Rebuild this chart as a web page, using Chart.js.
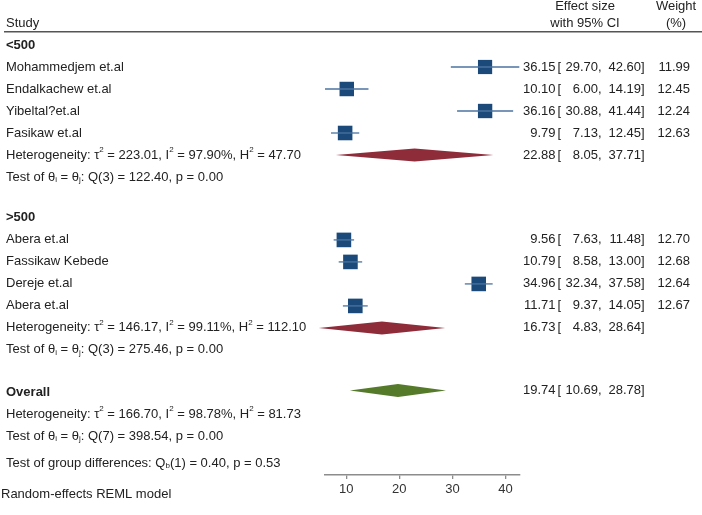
<!DOCTYPE html>
<html>
<head>
<meta charset="utf-8">
<script src="https://cdn.jsdelivr.net/npm/chart.js@4.4.1/dist/chart.umd.min.js"></script>
<style>
  html, body { margin: 0; padding: 0; background: #fff; }
  canvas { display: block; }
</style>
</head>
<body>
<canvas id="forest" width="702" height="515"></canvas>
<script>
// study level data
const studies = ['Mohammedjem et.al', 'Endalkachew et.al', 'Yibeltal?et.al', 'Fasikaw et.al',
                 'Abera et.al', 'Fassikaw Kebede', 'Dereje et.al', 'Abera et.al'];
const studyGroup = [0, 0, 0, 0, 1, 1, 1, 1];
const effect = [36.15, 10.10, 36.16, 9.79, 9.56, 10.79, 34.96, 11.71];
const lower = [29.70, 6.00, 30.88, 7.13, 7.63, 8.58, 32.34, 9.37];
const upper = [42.60, 14.19, 41.44, 12.45, 11.48, 13.00, 37.58, 14.05];
const weights = [11.99, 12.45, 12.24, 12.63, 12.70, 12.68, 12.64, 12.67];

// subgroup pooled estimates
const groups = ['<500', '>500'];
const groupEffect = [22.88, 16.73];
const groupLower = [8.05, 4.83];
const groupUpper = [37.71, 28.64];
const groupHet = ['Heterogeneity: τ^2 = 223.01, I^2 = 97.90%, H^2 = 47.70',
                  'Heterogeneity: τ^2 = 146.17, I^2 = 99.11%, H^2 = 112.10'];
const groupTest = ['Test of θ_i = θ_j: Q(3) = 122.40, p = 0.00',
                   'Test of θ_i = θ_j: Q(3) = 275.46, p = 0.00'];

// overall
const overallEffect = 19.74;
const overallLower = 10.69;
const overallUpper = 28.78;
const overallHet = 'Heterogeneity: τ^2 = 166.70, I^2 = 98.78%, H^2 = 81.73';
const overallTest = 'Test of θ_i = θ_j: Q(7) = 398.54, p = 0.00';
const groupDiffTest = 'Test of group differences: Q_b(1) = 0.40, p = 0.53';
const modelNote = 'Random-effects REML model';

const xTicks = [10, 20, 30, 40];

// row layout (row units, 1 row = 22px)
const ROW_PX = 22;
const FIRST_ROW_PX = 45;
const AXIS_PX = 475;
const groupRow = [0, 7.86];
const overallRow = 15.77;
const groupDiffRow = 19.0;
const noteRow = 20.45;

const FONT = "'Liberation Sans', Arial, Helvetica, sans-serif";
const TEXT = '#222';

const studyRow = studies.map((s, i) => {
    const g = studyGroup[i];
    const idx = studyGroup.slice(0, i).filter(x => x === g).length;
    return groupRow[g] + 1 + idx;
});

const fmt = v => v.toFixed(2);

// draws text with ^c superscripts and _c subscripts
function drawRich(ctx, str, x, y, size) {
    let run = '';
    const flush = () => {
        if (!run) return;
        ctx.font = `${size}px ${FONT}`;
        ctx.fillText(run, x, y);
        x += ctx.measureText(run).width;
        run = '';
    };
    for (let i = 0; i < str.length; i++) {
        const c = str[i];
        if ((c === '^' || c === '_') && i + 1 < str.length) {
            flush();
            const s = str[i + 1];
            ctx.font = `${Math.round(size * 0.58)}px ${FONT}`;
            const dy = c === '^' ? -size * 0.42 : size * 0.22;
            ctx.fillText(s, x, y + dy);
            x += ctx.measureText(s).width;
            i++;
        } else {
            run += c;
        }
    }
    flush();
}

function drawCI(ctx, est, lo, hi, y, weight) {
    ctx.font = `13px ${FONT}`;
    ctx.textAlign = 'right';
    ctx.fillText(fmt(est), 555.5, y);
    ctx.textAlign = 'left';
    ctx.fillText('[', 557.5, y);
    ctx.textAlign = 'right';
    ctx.fillText(fmt(lo), 598, y);
    ctx.textAlign = 'left';
    ctx.fillText(',', 598, y);
    ctx.textAlign = 'right';
    ctx.fillText(fmt(hi), 641, y);
    ctx.textAlign = 'left';
    ctx.fillText(']', 641, y);
    if (weight !== undefined) {
        ctx.textAlign = 'right';
        ctx.fillText(fmt(weight), 690, y);
    }
}

// pin the row scale so that row 0 sits at FIRST_ROW_PX whatever the chart area
const rowScaleFix = {
    id: 'rowScaleFix',
    afterLayout(chart) {
        const ys = chart.scales.y;
        const { top, bottom } = chart.chartArea;
        ys.min = -(FIRST_ROW_PX - top) / ROW_PX;
        ys.max = (bottom - FIRST_ROW_PX) / ROW_PX;
        ys.configure();
    }
};

const forestText = {
    id: 'forestText',
    afterDatasetsDraw(chart) {
        const ctx = chart.ctx;
        const xs = chart.scales.x;
        const ys = chart.scales.y;
        const py = r => ys.getPixelForValue(r);

        // pooled diamonds
        const diamond = (est, lo, hi, row, color) => {
            const y = py(row);
            const h = 6.5;
            ctx.save();
            ctx.fillStyle = color;
            ctx.beginPath();
            ctx.moveTo(xs.getPixelForValue(lo), y);
            ctx.lineTo(xs.getPixelForValue(est), y - h);
            ctx.lineTo(xs.getPixelForValue(hi), y);
            ctx.lineTo(xs.getPixelForValue(est), y + h);
            ctx.closePath();
            ctx.fill();
            ctx.restore();
        };
        groups.forEach((g, i) => diamond(groupEffect[i], groupLower[i], groupUpper[i], groupRow[i] + 5, '#8e2c3a'));
        diamond(overallEffect, overallLower, overallUpper, overallRow - 0.07, '#557a2a');

        ctx.save();
        ctx.fillStyle = TEXT;
        ctx.textBaseline = 'middle';

        // header
        ctx.font = `13px ${FONT}`;
        ctx.textAlign = 'left';
        ctx.fillText('Study', 6, py(-1));
        ctx.textAlign = 'center';
        ctx.fillText('Effect size', 585, py(-1.77));
        ctx.fillText('with 95% CI', 585, py(-1));
        ctx.fillText('Weight', 676, py(-1.77));
        ctx.fillText('(%)', 676, py(-1));
        ctx.strokeStyle = '#555';
        ctx.lineWidth = 1.4;
        ctx.beginPath();
        ctx.moveTo(4, py(-0.6));
        ctx.lineTo(702, py(-0.6));
        ctx.stroke();

        // groups
        groups.forEach((g, gi) => {
            const r0 = groupRow[gi];
            ctx.textAlign = 'left';
            ctx.font = `bold 13px ${FONT}`;
            ctx.fillText(g, 6, py(r0));
            studies.forEach((s, i) => {
                if (studyGroup[i] !== gi) return;
                ctx.textAlign = 'left';
                ctx.font = `13px ${FONT}`;
                ctx.fillText(s, 6, py(studyRow[i]));
                drawCI(ctx, effect[i], lower[i], upper[i], py(studyRow[i]), weights[i]);
            });
            ctx.textAlign = 'left';
            drawRich(ctx, groupHet[gi], 6, py(r0 + 5), 13);
            drawCI(ctx, groupEffect[gi], groupLower[gi], groupUpper[gi], py(r0 + 5));
            ctx.textAlign = 'left';
            drawRich(ctx, groupTest[gi], 6, py(r0 + 6), 13);
        });

        // overall
        ctx.textAlign = 'left';
        ctx.font = `bold 13px ${FONT}`;
        ctx.fillText('Overall', 6, py(overallRow));
        drawCI(ctx, overallEffect, overallLower, overallUpper, py(overallRow - 0.07));
        ctx.textAlign = 'left';
        drawRich(ctx, overallHet, 6, py(overallRow + 1), 13);
        drawRich(ctx, overallTest, 6, py(overallRow + 2), 13);
        drawRich(ctx, groupDiffTest, 6, py(groupDiffRow), 13);
        ctx.font = `13px ${FONT}`;
        ctx.fillText(modelNote, 1, py(noteRow));
        ctx.restore();
    }
};

const ciDatasets = studies.map((s, i) => ({
    label: s + ' CI',
    data: [{ x: lower[i], y: studyRow[i] }, { x: upper[i], y: studyRow[i] }],
    showLine: true,
    borderColor: '#4a73a0',
    borderWidth: 1.3,
    pointRadius: 0,
    clip: false
}));

const boxSide = w => 4.1 * Math.sqrt(w);

new Chart(document.getElementById('forest'), {
    type: 'scatter',
    data: {
        datasets: [
            ...ciDatasets,
            {
                label: 'Effect size',
                data: effect.map((v, i) => ({ x: v, y: studyRow[i] })),
                pointStyle: 'rect',
                pointRadius: weights.map(w => boxSide(w) / Math.SQRT2),
                backgroundColor: '#1b4a7a',
                borderColor: '#1b4a7a',
                borderWidth: 0,
                clip: false
            }
        ]
    },
    options: {
        responsive: false,
        animation: false,
        devicePixelRatio: 1,
        layout: { padding: { left: 325, right: 182.7, top: 0, bottom: 0 } },
        plugins: {
            legend: { display: false },
            tooltip: { enabled: false }
        },
        scales: {
            x: {
                type: 'linear',
                min: Math.min(...lower),
                max: Math.max(...upper),
                afterBuildTicks: scale => { scale.ticks = xTicks.map(v => ({ value: v })); },
                afterFit: scale => { scale.height = 515 - AXIS_PX; },
                grid: { drawOnChartArea: false, drawTicks: true, tickLength: 4, color: '#8c8c8c', lineWidth: 1.3 },
                border: { display: true, color: '#8c8c8c', width: 1.5 },
                ticks: { color: '#333', padding: 3, maxRotation: 0, font: { size: 13, family: FONT } }
            },
            y: {
                type: 'linear',
                display: false,
                reverse: true,
                min: -FIRST_ROW_PX / ROW_PX,
                max: (AXIS_PX - FIRST_ROW_PX) / ROW_PX
            }
        }
    },
    plugins: [rowScaleFix, forestText]
});
</script>
</body>
</html>
